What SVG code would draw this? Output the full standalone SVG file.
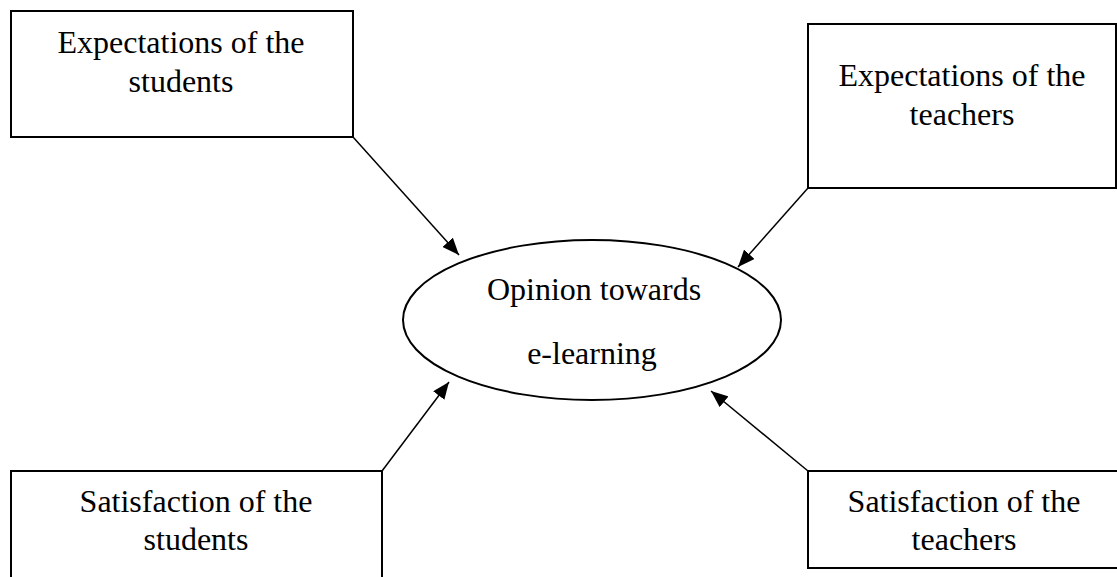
<svg xmlns="http://www.w3.org/2000/svg" width="1117" height="577" viewBox="0 0 1117 577">
<style>
.box{fill:#fff;stroke:#000;stroke-width:2}
.t{font-family:"Liberation Serif","Times New Roman",serif;font-size:32px;fill:#000;text-anchor:middle}
.c{stroke:#000;stroke-width:1.5;fill:none}
</style>
<defs>
<marker id="ah" markerUnits="userSpaceOnUse" markerWidth="18" markerHeight="14" refX="17" refY="7" orient="auto">
<path d="M0,0 L17,7 L0,14 z" fill="#000"/>
</marker>
</defs>
<rect width="1117" height="577" fill="#fff"/>
<g id="exp-students">
<rect class="box" x="11" y="11" width="342" height="126"/>
<text class="t" x="181" y="53">Expectations of the</text>
<text class="t" x="181" y="92">students</text>
</g>
<g id="exp-teachers">
<rect class="box" x="808" y="24" width="308" height="164"/>
<text class="t" x="962" y="86">Expectations of the</text>
<text class="t" x="962" y="125">teachers</text>
</g>
<g id="opinion">
<ellipse cx="592" cy="320" rx="189" ry="80" fill="#fff" stroke="#000" stroke-width="2"/>
<text class="t" x="594" y="300">Opinion towards</text>
<text class="t" x="592" y="364">e-learning</text>
</g>
<g id="sat-students">
<rect class="box" x="11" y="471" width="371" height="130"/>
<text class="t" x="196" y="512">Satisfaction of the</text>
<text class="t" x="196" y="550">students</text>
</g>
<g id="sat-teachers">
<rect class="box" x="808" y="471" width="320" height="97"/>
<text class="t" x="964" y="512">Satisfaction of the</text>
<text class="t" x="964" y="550">teachers</text>
</g>
<g id="connectors">
<line class="c" x1="353" y1="137" x2="459" y2="255" marker-end="url(#ah)"/>
<line class="c" x1="808" y1="188" x2="738" y2="267" marker-end="url(#ah)"/>
<line class="c" x1="382" y1="471" x2="449" y2="382" marker-end="url(#ah)"/>
<line class="c" x1="808" y1="471" x2="711" y2="391" marker-end="url(#ah)"/>
</g>
</svg>
